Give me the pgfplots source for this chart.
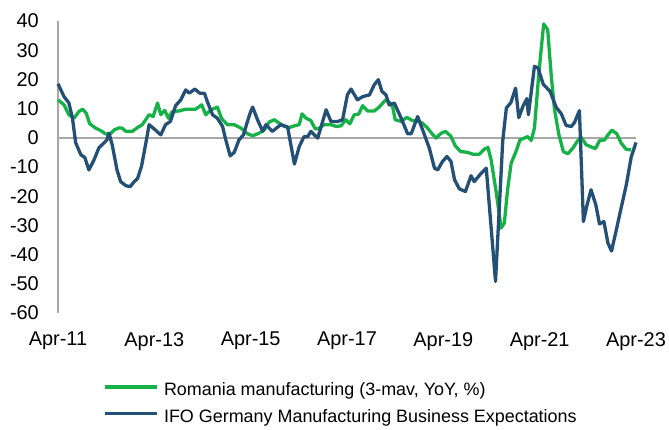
\documentclass[border=0pt]{standalone}
\usepackage{fontspec}
\setmainfont{Liberation Sans}
\usepackage{pgfplots}
\pgfplotsset{compat=1.18}
\definecolor{rogreen}{RGB}{22,178,72}
\definecolor{ifoblue}{RGB}{36,80,118}
\definecolor{axgray}{RGB}{168,168,168}
\begin{document}
\begin{tikzpicture}
\begin{axis}[
  name=ax,
  scale only axis,
  width=578bp, height=292bp,
  xmin=0, xmax=144, ymin=-60, ymax=40,
  clip=false,
  axis lines*=left,
  x axis line style={draw=none},
  y axis line style={draw=axgray, line width=1.5bp},
  major tick length=0pt,
  tick style={draw=none},
  xtick={0,24,48,72,96,120,144},
  xticklabels={Apr-11,Apr-13,Apr-15,Apr-17,Apr-19,Apr-21,Apr-23},
  ytick={-60,-50,-40,-30,-20,-10,0,10,20,30,40},
  yticklabels={-60,-50,-40,-30,-20,-10,0,10,20,30,40},
  xticklabel style={anchor=north, inner sep=0pt, yshift=-19bp, font=\fontsize{20}{24}\selectfont},
  yticklabel style={anchor=east, inner sep=0pt, xshift=-19bp, font=\fontsize{20}{24}\selectfont},
  extra y ticks={0},
  extra y tick labels={},
  extra y tick style={grid=major, major grid style={draw=axgray, line width=1.5bp}},
  legend style={at={(0.0779,-0.247)}, anchor=north west, draw=none, fill=none,
    inner sep=0pt, row sep=13.5bp, column sep=5.5bp,
    font=\fontsize{18}{22}\selectfont,
    nodes={inner sep=0pt, text height=0.75em, text depth=0.25em}},
  legend cell align=left,
  legend image code/.code={\draw[#1] (0bp,6.5bp) -- (52bp,6.5bp);},
]
\addplot[rogreen, line width=3.3bp, line join=round] coordinates {
(0,13) (1.5,11.3) (2.7,7.9) (4,6.7) (5.2,9) (6.1,9.8) (7,8.5) (7.9,4.8) (9.4,3.3) (10.6,2.5)
(11.9,1.3) (13.1,1.4) (14,2.7) (15.2,3.4) (16,3.3) (16.9,2.2) (18.5,2.2) (19.8,3.5) (21,4.5) (22.7,7.9)
(23.7,7.3) (24.8,11.9) (25.6,7.9) (26.6,9.4) (27.5,6.7) (28.5,9) (30.2,9.2) (31.8,9.8) (34.3,9.8) (35.8,11.3)
(36.8,7.9) (38.1,9.6) (39.7,10.5) (40.8,6.5) (42.2,4.5) (43.9,4.5) (45.6,3.3) (47.2,1.4) (48.5,0.7) (50.1,1.6)
(51.4,2.7) (52.6,5.4) (53.9,6.2) (55.1,5) (56.4,3.9) (57.6,3.5) (58.9,4.1) (60.1,4.5) (60.8,8.2) (61.8,6.7)
(63,5.9) (64.1,3) (65.1,3.3) (66.3,4.5) (68,4.5) (69.3,3.9) (70.5,4.1) (71.7,6.2) (72.7,4.8) (73.8,7.9)
(74.9,8.1) (75.9,11) (77.1,9.2) (78.8,9.2) (80,10.5) (81.5,12.8) (82.4,12.4) (83.4,10.5) (84,6.2) (85.5,5.6)
(86.9,7) (88.3,5.9) (90,5.6) (90.8,5) (92.1,3.3) (93.3,1.2) (94.2,-0.1) (95.4,1.5) (96.5,2.2) (97.8,0.7)
(99,-2.8) (100.3,-4.7) (102.1,-5) (103.3,-5.6) (105,-5.6) (106.2,-3.9) (107.1,-3.3) (107.9,-7.5) (109.2,-18.9) (110.4,-30.9)
(111.2,-29.2) (112,-17.8) (112.9,-8.7) (114.1,-4.7) (115.1,-0.7) (116.2,-0.1) (117,0.4) (117.9,-0.9) (118.7,3.3) (119.8,22.2)
(121,39) (122,37) (122.9,21) (123.7,9.6) (124.8,1) (125.9,-4.7) (127,-5.5) (128.3,-3.5) (129.3,-1.3) (130.3,0.2)
(131.6,-2.4) (132.8,-3.1) (133.9,-3.7) (134.9,-1) (136.2,-0.7) (137,1) (138,2.6) (139.2,1.4) (140.3,-1.8) (141.6,-4)
(142.8,-4.1)
};
\addlegendentry{Romania manufacturing (3-mav, YoY, \%)}
\addplot[ifoblue, line width=3.3bp, line join=round] coordinates {
(0,18.5) (1.5,14.1) (2.7,12) (3.6,6.8) (4.4,-1.7) (5.7,-5.8) (6.7,-6.8) (7.7,-11) (9,-7.5) (10.2,-3.4)
(11.5,-1.7) (12.2,-0.7) (12.7,1.6) (13.5,-2.4) (14.7,-11) (15.6,-15) (16.9,-16.4) (18,-16.7) (19,-15) (19.8,-14)
(20.8,-9.8) (21.9,-1.7) (22.7,4.5) (24,3) (25.6,1) (26.8,4.5) (28,5.6) (29.3,11) (30.6,13) (31.8,16.4)
(32.7,15.3) (34.1,16.7) (35.3,15.3) (36.5,15.2) (37.2,12.4) (38.5,7.9) (39.7,6.7) (41,3.9) (41.8,-0.7) (42.9,-6.2)
(43.9,-5) (45.1,-0.7) (46.2,1) (47.2,5.6) (48,9) (48.5,10.5) (49.7,6.2) (51,2.2) (51.8,4.5) (53.4,2.2)
(55.5,4.5) (57.2,3.7) (58.9,-9) (60.1,-3) (61.3,0.4) (62.2,0.4) (63,2.2) (64.7,-0.1) (66.8,9.6) (68,5.6)
(69.7,5.6) (70.9,6.2) (72.1,14.7) (73,16.7) (74.6,13) (75.9,14.1) (77.6,14.7) (78.8,18.2) (79.8,19.9) (80.7,15.9)
(81.7,14.7) (82.5,11.3) (83.8,11.9) (85.5,6.7) (87.1,1.4) (88,1.4) (89.6,7.3) (91.3,1) (92.5,-3.5) (93.8,-10.4)
(94.6,-11) (95.8,-8.1) (96.9,-6.4) (97.9,-8.1) (98.8,-14.4) (100,-17.5) (101.5,-18.4) (102.9,-13) (103.7,-15) (105.2,-12.5)
(106.7,-10.4) (109,-49.2) (110.8,-1) (111.7,10.2) (112.8,12) (114,17) (114.8,6.9) (115.8,10.7) (116.8,13.4) (117.2,7.9)
(118.7,24.5) (119.6,23.9) (120.9,18.3) (122.6,15.9) (124.1,10.5) (125.4,8.2) (126.6,4.2) (127.9,3.9) (128.7,5.3) (129.9,9.3)
(130.9,-28.7) (131.8,-23) (132.8,-17.8) (134,-23) (134.9,-29.5) (136,-28.7) (137,-36) (137.9,-38.8) (139.1,-31.5) (140.3,-24)
(141.6,-16) (142.8,-6.6) (144,-1.6)
};
\addlegendentry{IFO Germany Manufacturing Business Expectations}
\end{axis}
\pgfresetboundingbox
\path ([shift={(-58bp,-117bp)}]ax.south west) rectangle ([shift={(611bp,313bp)}]ax.south west);
\end{tikzpicture}
\end{document}
